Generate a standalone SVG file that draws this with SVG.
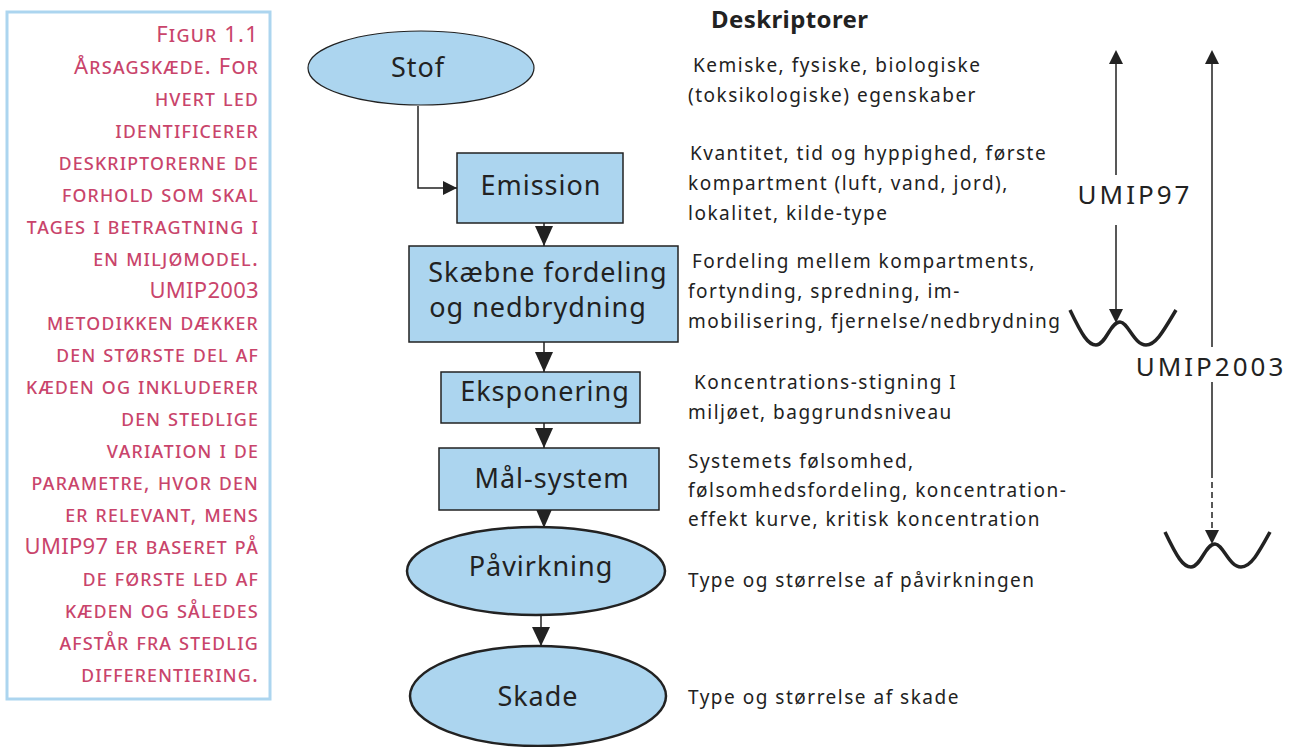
<svg xmlns="http://www.w3.org/2000/svg" width="1296" height="747" viewBox="0 0 1296 747">
<style>
.cap{font-family:"Noto Sans",sans-serif;font-size:22px;font-variant:small-caps;letter-spacing:1.2px;fill:#c9446b;text-anchor:end}
.nodebox{fill:#acd5ef;stroke:#222;stroke-width:1.5}
.nodeell{fill:#acd5ef;stroke:#222;stroke-width:2.5}
.lbl{font-family:"Noto Sans",sans-serif;font-size:27px;letter-spacing:1px;fill:#222;text-anchor:middle}
.desc{font-family:"Noto Sans",sans-serif;font-size:19px;letter-spacing:1.5px;fill:#222}
.umip{font-family:"Noto Sans",sans-serif;font-size:26px;letter-spacing:3px;fill:#222;text-anchor:middle}
.edge{stroke:#222;stroke-width:1.5;fill:none}
.wave{stroke:#222;stroke-width:3.5;fill:none;stroke-linejoin:round;stroke-linecap:butt}
</style>
<defs>
<marker id="sm" viewBox="0 0 14 14" markerWidth="14" markerHeight="14" refX="14" refY="7" orient="auto" markerUnits="userSpaceOnUse">
<path d="M0,0 L14,7 L0,14 Z" fill="#222"/>
</marker>
</defs>

<g id="caption">
<rect x="7" y="12" width="263" height="687" fill="#fff" stroke="#acd5ef" stroke-width="3"/>
<text class="cap" x="259" y="42">Figur 1.1</text>
<text class="cap" x="259" y="74">Årsagskæde. For</text>
<text class="cap" x="259" y="106">hvert led</text>
<text class="cap" x="259" y="138">identificerer</text>
<text class="cap" x="259" y="170">deskriptorerne de</text>
<text class="cap" x="259" y="202">forhold som skal</text>
<text class="cap" x="259" y="234">tages i betragtning i</text>
<text class="cap" x="259" y="266">en miljømodel.</text>
<text class="cap" x="259" y="298" style="font-variant:normal;letter-spacing:0.3px">UMIP2003</text>
<text class="cap" x="259" y="330">metodikken dækker</text>
<text class="cap" x="259" y="362">den største del af</text>
<text class="cap" x="259" y="394">kæden og inkluderer</text>
<text class="cap" x="259" y="426">den stedlige</text>
<text class="cap" x="259" y="458">variation i de</text>
<text class="cap" x="259" y="490">parametre, hvor den</text>
<text class="cap" x="259" y="522">er relevant, mens</text>
<text class="cap" x="259" y="554"><tspan style="font-variant:normal;letter-spacing:0.3px">UMIP97</tspan> er baseret på</text>
<text class="cap" x="259" y="586">de første led af</text>
<text class="cap" x="259" y="618">kæden og således</text>
<text class="cap" x="259" y="650">afstår fra stedlig</text>
<text class="cap" x="259" y="682">differentiering.</text>
</g>

<g id="connectors">
<path class="edge" d="M418,106 V188 H457" marker-end="url(#sm)"/>
<path class="edge" d="M544,223 V246"/>
<path d="M535,226 L553,226 L544,246 Z" fill="#222"/>
<path class="edge" d="M544,342 V372"/>
<path d="M535,352 L553,352 L544,372 Z" fill="#222"/>
<path class="edge" d="M544,423 V448"/>
<path d="M535,428 L553,428 L544,448 Z" fill="#222"/>
<path class="edge" d="M544,510 V527"/>
<path d="M535,507 L553,507 L544,528 Z" fill="#222"/>
<path class="edge" d="M541,615 V646"/>
<path d="M532,627 L550,627 L541,646 Z" fill="#222"/>
<path class="edge" d="M1116,64 V175 M1116,225 V310"/>
<path d="M1109,64 L1123,64 L1116,50 Z" fill="#222"/>
<path d="M1109,309 L1123,309 L1116,323 Z" fill="#222"/>
<path class="edge" d="M1212,64 V347 M1212,382 V472"/>
<path class="edge" d="M1212,472 V531" stroke-dasharray="6,4"/>
<path d="M1205,64 L1219,64 L1212,50 Z" fill="#222"/>
<path d="M1205,530 L1219,530 L1212,544 Z" fill="#222"/>
</g>

<g id="wave1"><path class="wave" d="M1070,310 C1082,335 1088,345 1096,345 C1106,345 1110,322 1120,322 C1128,322 1134,345 1146,345 C1156,345 1164,330 1176,310"/></g>
<g id="wave2"><path class="wave" d="M1165,532 C1177,557 1183,567 1191,567 C1201,567 1205,544 1215,544 C1223,544 1229,567 1241,567 C1251,567 1259,552 1270,532"/></g>

<g id="umip97"><text class="umip" x="1135" y="204">UMIP97</text></g>
<g id="umip2003"><text class="umip" x="1211" y="376">UMIP2003</text></g>

<g id="stof">
<ellipse cx="421" cy="68" rx="113" ry="37" fill="#acd5ef" stroke="#222" stroke-width="1.2"/>
<text class="lbl" x="418" y="77">Stof</text>
</g>
<g id="emission">
<rect class="nodebox" x="457" y="153" width="166" height="70"/>
<text class="lbl" x="541" y="195">Emission</text>
</g>
<g id="skaebne">
<rect class="nodebox" x="409" y="246" width="269" height="96"/>
<text class="lbl" x="548" y="282">Skæbne fordeling</text>
<text class="lbl" x="538" y="317">og nedbrydning</text>
</g>
<g id="eksponering">
<rect class="nodebox" x="441" y="372" width="199" height="51"/>
<text class="lbl" x="545" y="401">Eksponering</text>
</g>
<g id="malsystem">
<rect class="nodebox" x="439" y="448" width="220" height="62"/>
<text class="lbl" x="552" y="488">Mål-system</text>
</g>
<g id="pavirkning">
<ellipse class="nodeell" cx="536" cy="571" rx="129" ry="44"/>
<text class="lbl" x="541" y="576">Påvirkning</text>
</g>
<g id="skade">
<ellipse class="nodeell" cx="538" cy="696" rx="128" ry="50"/>
<text class="lbl" x="538" y="706">Skade</text>
</g>

<g id="descriptors">
<text class="desc" x="711" y="28" style="font-weight:bold;font-size:24px;letter-spacing:0.4px">Deskriptorer</text>
<text class="desc" x="693" y="72">Kemiske, fysiske, biologiske</text>
<text class="desc" x="688" y="102">(toksikologiske) egenskaber</text>
<text class="desc" x="690" y="160">Kvantitet, tid og hyppighed, første</text>
<text class="desc" x="688" y="190">kompartment (luft, vand, jord),</text>
<text class="desc" x="688" y="220">lokalitet, kilde-type</text>
<text class="desc" x="692" y="268">Fordeling mellem kompartments,</text>
<text class="desc" x="688" y="298">fortynding, spredning, im-</text>
<text class="desc" x="688" y="328">mobilisering, fjernelse/nedbrydning</text>
<text class="desc" x="694" y="389">Koncentrations-stigning I</text>
<text class="desc" x="688" y="419">miljøet, baggrundsniveau</text>
<text class="desc" x="688" y="468">Systemets følsomhed,</text>
<text class="desc" x="688" y="497">følsomhedsfordeling, koncentration-</text>
<text class="desc" x="688" y="526">effekt kurve, kritisk koncentration</text>
<text class="desc" x="688" y="587">Type og størrelse af påvirkningen</text>
<text class="desc" x="688" y="704">Type og størrelse af skade</text>
</g>
</svg>
